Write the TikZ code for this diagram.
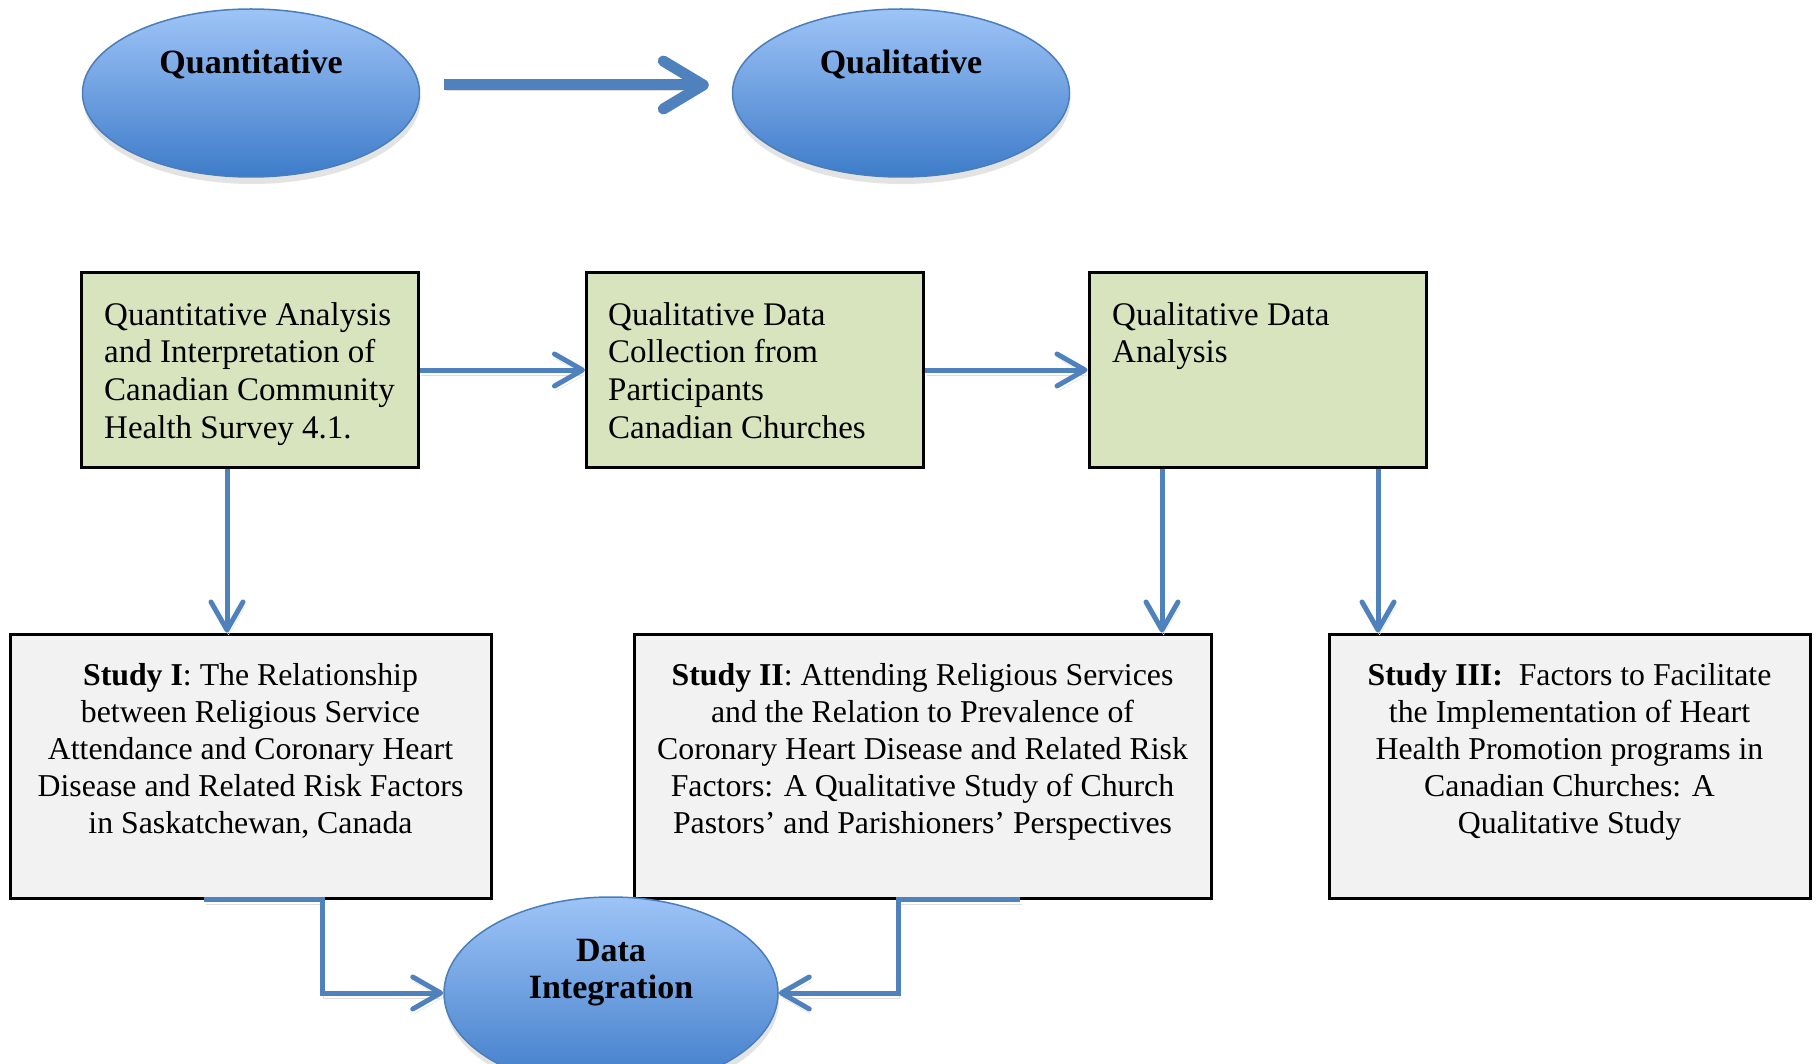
\documentclass[tikz,border=0pt]{standalone}
\usepackage{fontspec}
\setmainfont{Liberation Serif}
\usetikzlibrary{arrows.meta,shapes.geometric,shadows}

\definecolor{ellTop}{RGB}{158,196,247}
\definecolor{ellBot}{RGB}{62,124,201}
\definecolor{ellEdge}{RGB}{74,126,187}
\definecolor{flow}{RGB}{79,129,189}
\definecolor{greenFill}{RGB}{215,228,189}
\definecolor{grayFill}{RGB}{242,242,242}

\begin{document}
\begin{tikzpicture}[x=1pt,y=-1pt,
  phase/.style={ellipse, draw=ellEdge, line width=1.5pt, top color=ellTop,
    bottom color=ellBot, minimum width=337pt, minimum height=168pt, inner sep=0pt,
    drop shadow={shadow xshift=1pt, shadow yshift=-7pt, opacity=0.22}},
  phaselabel/.style={font=\bfseries\fontsize{34}{37}\selectfont, align=center, inner sep=0pt},
  stepbox/.style={rectangle, draw=black, line width=3pt, fill=greenFill,
    minimum width=337pt, minimum height=194pt, inner sep=0pt},
  steptext/.style={anchor=north west, align=left, inner sep=0pt,
    font=\fontsize{33}{37.7}\selectfont},
  studybox/.style={rectangle, draw=black, line width=3pt, fill=grayFill,
    minimum height=264pt, inner sep=0pt},
  studytext/.style={anchor=north, align=center, inner sep=0pt,
    font=\fontsize{31.8}{37}\selectfont},
  shade/.style={preaction={draw=black!13, transform canvas={xshift=1.5pt,yshift=-5pt}}},
  flowline/.style={draw=flow, line width=5pt, shade,
    -{Straight Barb[length=28pt,width=32pt,round]}},
  bigflow/.style={draw=flow, line width=11pt, shade,
    -{Straight Barb[length=40pt,width=48pt,round]}}
]
\clip (0,0) rectangle (1817,1064);
\fill[white] (0,0) rectangle (1817,1064);

% phase ellipses
\node[phase] (qn) at (251,93) {};
\node[phase] (ql) at (901,93) {};
\node[phaselabel, anchor=base] (qnt) at (251,74) {Quantitative};
\node[phaselabel, anchor=base] (qlt) at (901,74) {Qualitative};
\draw[bigflow] ([xshift=24pt,yshift=8pt]qn.east) -- ([xshift=-23pt,yshift=8pt]ql.west);

% analysis steps
\node[stepbox] (g1) at (249.5,370) {};
\node[stepbox] (g2) at (755,370) {};
\node[stepbox] (g3) at (1257.5,370) {};
\node[steptext] (t1) at (104,302) {Quantitative Analysis\\and Interpretation of\\Canadian Community\\Health Survey 4.1.};
\node[steptext] (t2) at (608,302) {Qualitative Data\\Collection from\\Participants\\Canadian Churches};
\node[steptext] (t3) at (1112,302) {Qualitative Data\\Analysis};

% studies
\node[studybox, minimum width=481pt] (s1) at (250.5,766) {};
\node[studybox, minimum width=577pt] (s2) at (922.5,766) {};
\node[studybox, minimum width=481pt] (s3) at (1569.5,766) {};
\node[studytext] (u1) at (250.5,663) {\textbf{Study I}: The Relationship\\between Religious Service\\Attendance and Coronary Heart\\Disease and Related Risk Factors\\in Saskatchewan, Canada};
\node[studytext] (u2) at (922.5,663) {\textbf{Study II}: Attending Religious Services\\and the Relation to Prevalence of\\Coronary Heart Disease and Related Risk\\Factors: A Qualitative Study of Church\\Pastors’ and Parishioners’ Perspectives};
\node[studytext] (u3) at (1569.5,663) {\textbf{Study III:}\ \ Factors to Facilitate\\the Implementation of Heart\\Health Promotion programs in\\Canadian Churches: A\\Qualitative Study};

% integration
\node[phase, minimum width=334pt, minimum height=192pt] (di) at (611,993) {};
\node[phaselabel, anchor=north] (dit) at (611,939) {Data\\Integration};

% flow between steps
\draw[flowline] (g1.east) -- (g2.west);
\draw[flowline] (g2.east) -- (g3.west);
\draw[flowline] ([xshift=-22.5pt]g1.south) -- ([xshift=-22.5pt]g1.south |- s1.north);
\draw[flowline] ([xshift=-95.5pt]g3.south) -- ([xshift=-95.5pt]g3.south |- s2.north);
\draw[flowline] ([xshift=120.5pt]g3.south) -- ([xshift=120.5pt]g3.south |- s3.north);

% studies feeding the integration
\draw[flowline] ([xshift=-46.5pt]s1.south) -- ++(118,0) |- (di.west);
\draw[flowline] ([xshift=97.5pt]s2.south) -- ++(-122,0) |- (di.east);
\end{tikzpicture}
\end{document}
